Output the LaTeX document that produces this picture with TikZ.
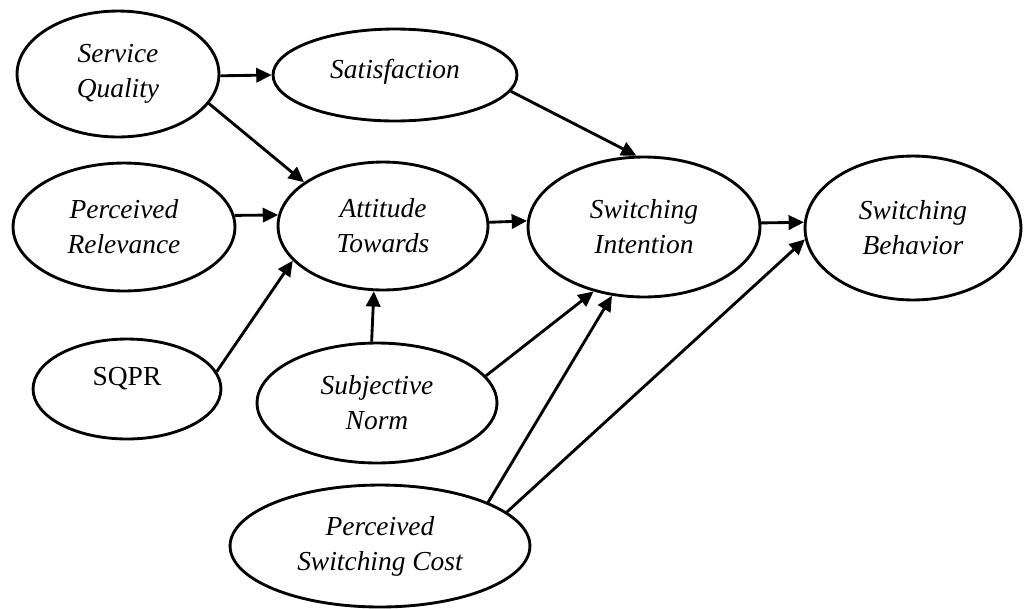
\documentclass[tikz,border=0pt]{standalone}
\usepackage{fontspec}
\setmainfont{Liberation Serif}
\usetikzlibrary{arrows.meta, shapes.geometric}

\begin{document}
\begin{tikzpicture}[
  x=0.016cm, y=-0.016cm,
  construct/.style={ellipse, draw, inner sep=0pt, align=center, font=\itshape\fontsize{12.5}{16}\selectfont},
  observed/.style={construct, font=\upshape\fontsize{12.5}{16}\selectfont},
  ->, >={Triangle[length=7pt, width=6.5pt]}, line width=1.3pt
]
  \useasboundingbox (0,0) rectangle (1026,608);

  \node[construct, minimum width=3.232cm, minimum height=2.016cm] (SQ) at (118,74) {Service\\Quality};
  \node[construct, minimum width=3.904cm, minimum height=1.472cm, text depth=0.2cm] (SAT) at (395,75) {Satisfaction};
  \node[construct, minimum width=3.552cm, minimum height=2.048cm] (PR) at (124,227) {Perceived\\Relevance};
  \node[construct, minimum width=3.36cm, minimum height=2.048cm] (AT) at (383,226) {Attitude\\Towards};
  \node[construct, minimum width=3.712cm, minimum height=2.24cm] (SI) at (644,227) {Switching\\Intention};
  \node[construct, minimum width=3.456cm, minimum height=2.304cm] (SB) at (913,228) {Switching\\Behavior};
  \node[observed, minimum width=3.008cm, minimum height=1.6cm, text depth=0.4cm] (SQPR) at (127,389) {SQPR};
  \node[construct, minimum width=3.84cm, minimum height=1.92cm] (SN) at (377,403) {Subjective\\Norm};
  \node[construct, minimum width=4.8cm, minimum height=1.952cm] (PSC) at (380,546) {Perceived\\Switching Cost};

  \path (SQ.-1) edge (SAT.west)
        (SQ.-18) edge (AT.151)
        (PR.6) edge (AT.174)
        (SQPR.11) edge (AT.201)
        (SN.95) edge (AT.262)
        (SAT.-8) edge (SI.96)
        (AT.2) edge (SI.177)
        (SN.14) edge (SI.232)
        (PSC.22) edge (SI.245)
        (SI.2) edge (SB.177)
        (PSC.15) edge (SB.186);
\end{tikzpicture}
\end{document}
